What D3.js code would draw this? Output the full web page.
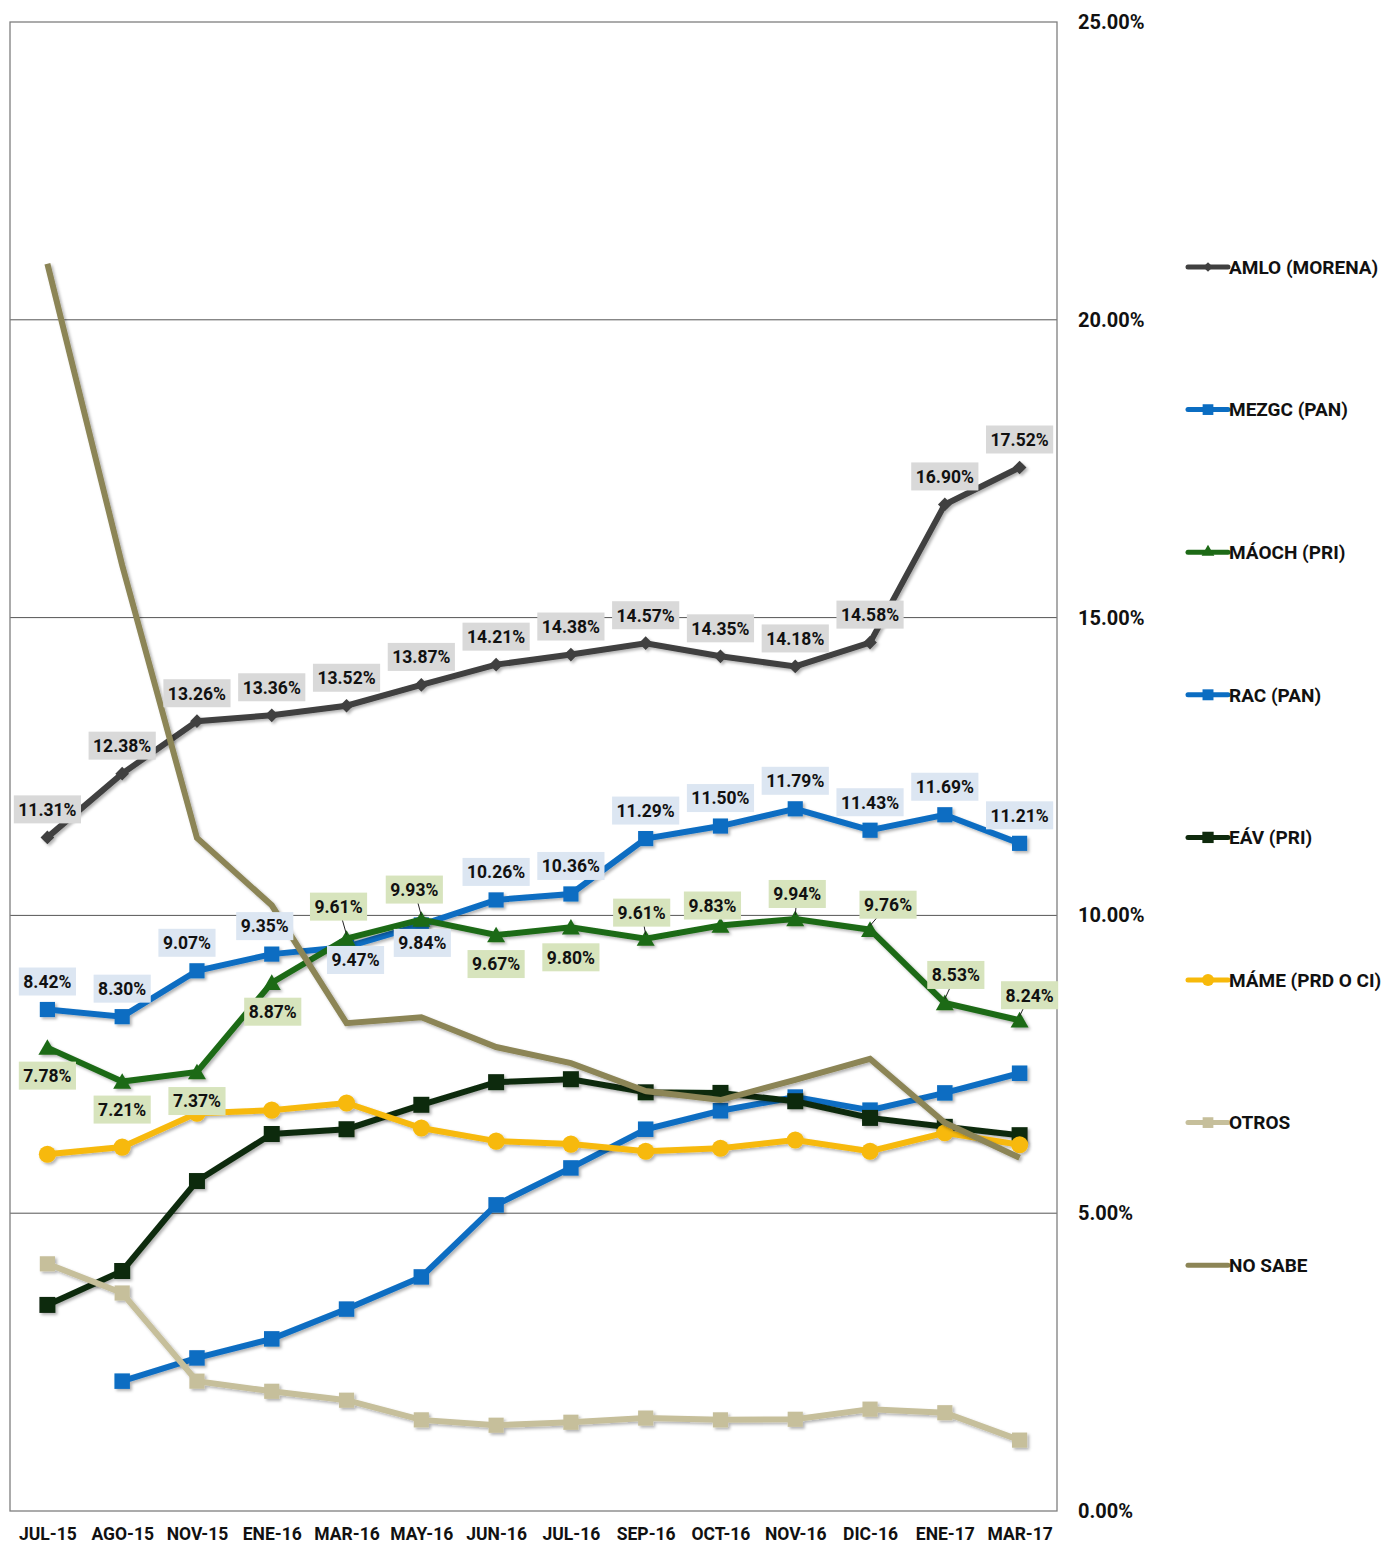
<!DOCTYPE html>
<html>
<head>
<meta charset="utf-8">
<script src="https://cdn.jsdelivr.net/npm/d3@7"></script>
<style>
  body { margin: 0; background: #fff; }
  svg text { font-family: Roboto, "Liberation Sans", sans-serif; font-weight: 700; fill: #111; }
</style>
</head>
<body>
<div id="chart"><svg></svg></div>
<script>
var width = 1384,
    height = 1547;
var plotLeft = 10, plotRight = 1057,
    plotTop = 22, plotBottom = 1511;

// categories
var months = ["JUL-15", "AGO-15", "NOV-15", "ENE-16", "MAR-16", "MAY-16", "JUN-16",
  "JUL-16", "SEP-16", "OCT-16", "NOV-16", "DIC-16", "ENE-17", "MAR-17"];

// series values (%)
var amlo  = [11.31, 12.38, 13.26, 13.36, 13.52, 13.87, 14.21, 14.38, 14.57, 14.35, 14.18, 14.58, 16.90, 17.52];
var mezgc = [8.42, 8.30, 9.07, 9.35, 9.47, 9.84, 10.26, 10.36, 11.29, 11.50, 11.79, 11.43, 11.69, 11.21];
var maoch = [7.78, 7.21, 7.37, 8.87, 9.61, 9.93, 9.67, 9.80, 9.61, 9.83, 9.94, 9.76, 8.53, 8.24];
var rac   = [null, 2.18, 2.57, 2.89, 3.39, 3.93, 5.14, 5.76, 6.41, 6.72, 6.95, 6.73, 7.02, 7.35];
var eav   = [3.46, 4.03, 5.54, 6.33, 6.41, 6.82, 7.20, 7.25, 7.03, 7.02, 6.88, 6.60, 6.45, 6.31];
var mame  = [5.99, 6.11, 6.68, 6.73, 6.85, 6.43, 6.21, 6.16, 6.04, 6.09, 6.23, 6.04, 6.35, 6.15];
var otros = [4.15, 3.66, 2.18, 2.01, 1.86, 1.53, 1.44, 1.49, 1.56, 1.53, 1.54, 1.71, 1.65, 1.19];
var noSabe = [20.94, 15.88, 11.30, 10.17, 8.19, 8.29, 7.79, 7.52, 7.05, 6.90, 7.24, 7.59, 6.52, 5.93];

var yTicks = [0, 5, 10, 15, 20, 25];

// label placement (offset of box centre from point, px) — placement only, not data
var amloLabelOff  = months.map(function () { return [0, -28]; });
var mezgcLabelOff = [[0,-28],[0,-28],[-10,-28],[-7,-28],[9,13],[1,18],[0,-28],[0,-28],[0,-28],[0,-28],[0,-28],[0,-28],[0,-28],[0,-28]];
var maochLabelOff = [[0,28],[0,28],[0,29],[1,29],[-8,-32,1],[-7,-30,1],[0,29],[0,30],[-4,-26,1],[-8,-20],[2,-25,1],[18,-25,1],[11,-28,1],[10,-25,1]];

var series = [
  {name: "AMLO (MORENA)",    values: amlo,   color: "#404040", marker: d3.symbolDiamond2, size: 120, label: "#d9d9d9", off: amloLabelOff},
  {name: "MEZGC (PAN)",      values: mezgc,  color: "#0b6dc2", marker: d3.symbolSquare,   size: 230, label: "#dce6f2", off: mezgcLabelOff},
  {name: "MÁOCH (PRI)",      values: maoch,  color: "#1d6a16", marker: d3.symbolTriangle, size: 140, label: "#d7e4bd", off: maochLabelOff},
  {name: "RAC (PAN)",        values: rac,    color: "#0b6dc2", marker: d3.symbolSquare,   size: 240},
  {name: "EÁV (PRI)",        values: eav,    color: "#0f2a0d", marker: d3.symbolSquare,   size: 256},
  {name: "MÁME (PRD O CI)",  values: mame,   color: "#f7b90a", marker: d3.symbolCircle,   size: 230},
  {name: "OTROS",            values: otros,  color: "#c6bf9b", marker: d3.symbolSquare,   size: 230},
  {name: "NO SABE",          values: noSabe, color: "#8c8556", marker: null}
];

var x = d3.scalePoint()
  .domain(months)
  .range([plotLeft, plotRight])
  .padding(0.5);

var y = d3.scaleLinear()
  .domain([0, 25])
  .range([plotBottom, plotTop]);

var svg = d3.select("#chart svg")
  .attr("width", width)
  .attr("height", height);

svg.append("rect").attr("width", width).attr("height", height).attr("fill", "#fff");

var defs = svg.append("defs");
defs.append("filter")
    .attr("id", "shadow")
    .attr("x", "-10%").attr("y", "-10%").attr("width", "120%").attr("height", "120%")
  .append("feDropShadow")
    .attr("dx", 2).attr("dy", 2)
    .attr("stdDeviation", 1.5)
    .attr("flood-color", "#000")
    .attr("flood-opacity", 0.3);

// gridlines
svg.append("g")
    .attr("class", "grid")
  .selectAll("line")
    .data([5, 10, 15, 20])
  .enter().append("line")
    .attr("x1", plotLeft).attr("x2", plotRight)
    .attr("y1", function (d) { return y(d); })
    .attr("y2", function (d) { return y(d); })
    .attr("stroke", "#555")
    .attr("stroke-width", 1);

// plot border
svg.append("rect")
  .attr("x", plotLeft).attr("y", plotTop)
  .attr("width", plotRight - plotLeft)
  .attr("height", plotBottom - plotTop)
  .attr("fill", "none")
  .attr("stroke", "#7f7f7f")
  .attr("stroke-width", 1.3);

// y axis on the right
var yAxis = svg.append("g")
  .attr("transform", "translate(" + plotRight + ",0)")
  .call(d3.axisRight(y)
    .tickValues(yTicks)
    .tickSize(0)
    .tickPadding(21)
    .tickFormat(function (d) { return d.toFixed(2) + "%"; }));
yAxis.select(".domain").remove();
yAxis.selectAll("text")
  .style("font-size", "20px")
  .style("font-family", "Roboto, sans-serif")
  .style("font-weight", "700")
  .attr("fill", "#111");

// x axis
var xAxis = svg.append("g")
  .attr("transform", "translate(0," + plotBottom + ")")
  .call(d3.axisBottom(x).tickSize(0).tickPadding(17));
xAxis.select(".domain").remove();
xAxis.selectAll("text")
  .style("font-size", "17.5px")
  .style("font-family", "Roboto, sans-serif")
  .style("font-weight", "700")
  .attr("fill", "#111");

// lines
var line = d3.line()
  .defined(function (d) { return d != null; })
  .x(function (d, i) { return x(months[i]); })
  .y(function (d) { return y(d); });

var linesG = svg.append("g").attr("class", "lines");

series.forEach(function (s) {
  var g = linesG.append("g").attr("filter", "url(#shadow)");
  g.append("path")
    .attr("d", line(s.values))
    .attr("fill", "none")
    .attr("stroke", s.color)
    .attr("stroke-width", 6)
    .attr("stroke-linejoin", "miter");

  if (s.marker) {
    var pts = s.values.map(function (v, i) { return {v: v, m: months[i]}; })
      .filter(function (d) { return d.v != null; });
    g.selectAll("path.mk")
        .data(pts)
      .enter().append("path")
        .attr("class", "mk")
        .attr("transform", function (d) {
          var dy = s.marker === d3.symbolTriangle ? 2 : 0;
          return "translate(" + x(d.m) + "," + (y(d.v) + dy) + ")";
        })
        .attr("d", d3.symbol().type(s.marker).size(s.size))
        .attr("fill", s.color);
  }
});

// data labels
var labelsG = svg.append("g").attr("class", "labels");

series.filter(function (s) { return s.label; }).forEach(function (s) {
  s.values.forEach(function (v, i) {
    var px = x(months[i]), py = y(v);
    var off = s.off[i];
    var cx = px + off[0], cy = py + off[1];

    if (off[2]) {
      labelsG.append("line")
        .attr("x1", px).attr("y1", py - 4)
        .attr("x2", cx).attr("y2", cy)
        .attr("stroke", "#222")
        .attr("stroke-width", 1);
    }

    var g = labelsG.append("g");
    var rect = g.append("rect").attr("fill", s.label);
    var t = g.append("text")
      .attr("x", cx)
      .attr("y", cy)
      .attr("dy", "0.36em")
      .attr("text-anchor", "middle")
      .style("font-size", "17.5px")
      .text(v.toFixed(2) + "%");
    var w = t.node().getComputedTextLength() + 9;
    rect.attr("x", cx - w / 2).attr("y", cy - 14)
      .attr("width", w).attr("height", 28);
  });
});

// legend
var legend = svg.append("g").attr("class", "legend");

series.forEach(function (s, i) {
  var ly = 267 + i * 142.6;
  var g = legend.append("g").attr("transform", "translate(1188," + ly + ")");
  g.append("line")
    .attr("x1", 0).attr("x2", 40)
    .attr("stroke", s.color)
    .attr("stroke-width", 5)
    .attr("stroke-linecap", "round");
  if (s.marker) {
    g.append("path")
      .attr("transform", "translate(20,0)")
      .attr("d", d3.symbol().type(s.marker).size(s.size * 0.5))
      .attr("fill", s.color);
  }
  g.append("text")
    .attr("x", 41)
    .attr("dy", "0.36em")
    .style("font-size", "19px")
    .text(s.name);
});
</script>
</body>
</html>
